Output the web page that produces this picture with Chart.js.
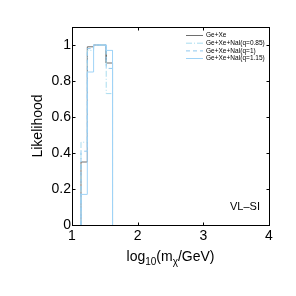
<!DOCTYPE html>
<html><head><meta charset="utf-8">
<script src="https://cdn.jsdelivr.net/npm/chart.js@4.4.1/dist/chart.umd.min.js"></script>
<style>html,body{margin:0;padding:0;background:#fff}#wrap{width:296px;height:296px}</style>
</head><body><div id="wrap"><canvas id="c" width="296" height="296"></canvas></div>
<script>
const binEdges = [1.137, 1.233, 1.329, 1.425, 1.521, 1.617];
const seriesLabels = ['Ge+Xe', 'Ge+Xe+NaI(q=0.85)', 'Ge+Xe+NaI(q=1)', 'Ge+Xe+NaI(q=1.15)'];
const geXe = [0.35, 0.99, 1.0, 1.0, 0.90];
const q085 = [0.46, 0.97, 1.0, 1.0, 0.73];
const q100 = [0.41, 0.98, 1.0, 1.0, 0.87];
const q115 = [0.17, 0.85, 1.0, 1.0, 0.97];
const xTicks = [1, 2, 3, 4];
const xTickLabels = ['1', '2', '3', '4'];
const yTicks = [0, 0.2, 0.4, 0.6, 0.8, 1];
const yTickLabels = ['0', '0.2', '0.4', '0.6', '0.8', '1'];

function stepPoints(vals){
  const pts=[{x:binEdges[0],y:0}];
  vals.forEach((v,i)=>{pts.push({x:binEdges[i],y:v});pts.push({x:binEdges[i+1],y:v});});
  pts.push({x:binEdges[binEdges.length-1],y:0});
  return pts;
}
const styles = [
  {c:'#6e6e6e', d:[]},
  {c:'#a9dcef', d:[6,2,1,2]},
  {c:'#8ec8ee', d:[4,3]},
  {c:'#9fd3f7', d:[]}
];
const vals=[geXe,q085,q100,q115];
const datasets = vals.map((v,i)=>({label:seriesLabels[i],data:stepPoints(v),borderColor:styles[i].c,borderDash:styles[i].d,borderWidth:1,pointRadius:0,tension:0,fill:false}));
datasets.reverse();

const F='"Liberation Sans", Arial, sans-serif';
const deco = {
  id:'deco',
  afterDatasetsDraw(chart){
    const ctx=chart.ctx, a=chart.chartArea, xs=chart.scales.x, ys=chart.scales.y;
    ctx.save();
    ctx.strokeStyle='#000'; ctx.lineWidth=1;
    const L=Math.round(a.left)+0.5, R=Math.round(a.right)+0.5, T=Math.round(a.top)+0.5, B=Math.round(a.bottom)+0.5;
    ctx.strokeRect(L,T,R-L,B-T);
    const tl=3;
    ctx.beginPath();
    xTicks.forEach(v=>{const px=Math.round(xs.getPixelForValue(v))+0.5;ctx.moveTo(px,B);ctx.lineTo(px,B-tl);ctx.moveTo(px,T);ctx.lineTo(px,T+tl);});
    yTicks.forEach(v=>{const py=Math.round(ys.getPixelForValue(v))+0.5;ctx.moveTo(L,py);ctx.lineTo(L+tl,py);ctx.moveTo(R,py);ctx.lineTo(R-tl,py);});
    ctx.stroke();
    // tick labels
    ctx.fillStyle='#000';
    ctx.font='14px '+F;
    ctx.textAlign='center'; ctx.textBaseline='top';
    xTicks.forEach((v,i)=>ctx.fillText(xTickLabels[i],xs.getPixelForValue(v),a.bottom+4));
    ctx.textAlign='right'; ctx.textBaseline='middle';
    yTicks.forEach((v,i)=>ctx.fillText(yTickLabels[i],a.left-1,ys.getPixelForValue(v)));
    // legend
    ctx.font='6.5px '+F; ctx.textBaseline='middle'; ctx.textAlign='left';
    const rows=[35,42.7,50.4,58];
    for(let i=0;i<4;i++){
      ctx.strokeStyle=styles[i].c; ctx.setLineDash(styles[i].d); ctx.lineWidth=1;
      ctx.beginPath(); ctx.moveTo(186,rows[i]+0.5); ctx.lineTo(203,rows[i]+0.5); ctx.stroke();
      ctx.setLineDash([]);
      ctx.fillText(seriesLabels[i],206,rows[i]+0.5);
    }
    // annotation
    ctx.font='11px '+F; ctx.textBaseline='alphabetic'; ctx.textAlign='left';
    ctx.fillText('VL\u2013SI',230,210);
    // y title
    ctx.save(); ctx.translate(42,(a.top+a.bottom)/2); ctx.rotate(-Math.PI/2);
    ctx.font='14px '+F; ctx.textAlign='center'; ctx.fillText('Likelihood',0,0); ctx.restore();
    // x title with subscripts
    const parts=[['log',14,0],['10',10,4],['(m',14,0],['\u03c7',10,4],['/GeV)',14,0]];
    let w=0; parts.forEach(p=>{ctx.font=p[1]+'px '+F; w+=ctx.measureText(p[0]).width;});
    let x=(a.left+a.right)/2-w/2; const base=261;
    parts.forEach(p=>{ctx.font=p[1]+'px '+F; ctx.fillText(p[0],x,base+p[2]); x+=ctx.measureText(p[0]).width;});
    ctx.restore();
  }
};

new Chart(document.getElementById('c'),{
  type:'line',
  data:{datasets},
  options:{
    responsive:false, animation:false, devicePixelRatio:1,
    layout:{padding:{left:72,right:27,top:27,bottom:71}},
    plugins:{legend:{display:false},tooltip:{enabled:false}},
    scales:{
      x:{type:'linear',min:1,max:4,display:true,
        afterFit(s){s.height=0;},
        grid:{display:false},border:{display:false},
        ticks:{display:false}},
      y:{type:'linear',min:0,max:1.1,display:true,
        afterFit(s){s.width=0;},
        grid:{display:false},border:{display:false},
        ticks:{display:false}}
    }
  },
  plugins:[deco]
});
</script></body></html>
